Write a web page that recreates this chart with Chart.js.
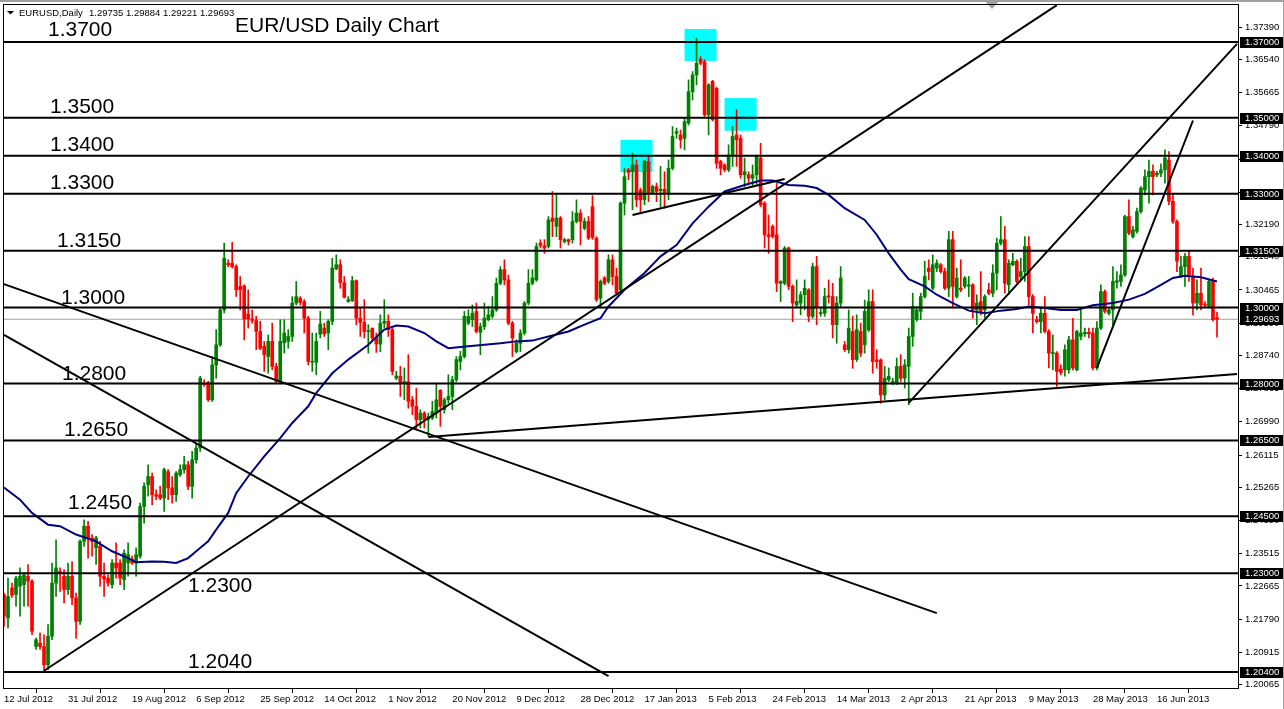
<!DOCTYPE html>
<html>
<head>
<meta charset="utf-8">
<title>EUR/USD Daily Chart</title>
<script src="https://cdn.jsdelivr.net/npm/chart.js@4.4.1/dist/chart.umd.min.js"></script>
<style>
  html, body { margin: 0; padding: 0; background: #fff; }
  canvas { display: block; }
</style>
</head>
<body>
<canvas id="chart" width="1284" height="709"></canvas>
<script>
// EURUSD daily candles, 12 Jul 2012 .. 21 Jun 2013 (bar 0 .. 303)
const opens = [
  1.2244,1.2182,1.2261,1.2244,1.2266,1.2270,1.2292,1.2279,1.2107,1.2116,
  1.2107,1.2059,1.2134,1.2274,1.2305,1.2292,1.2257,1.2292,1.2235,1.2173,
  1.2384,1.2424,1.2393,1.2367,1.2371,1.2292,1.2287,1.2270,1.2327,1.2327,
  1.2283,1.2327,1.2336,1.2327,1.2345,1.2476,1.2533,1.2555,1.2507,1.2507,
  1.2498,1.2568,1.2525,1.2507,1.2560,1.2573,1.2586,1.2529,1.2599,1.2630,
  1.2801,1.2801,1.2757,1.2849,1.2902,1.2994,1.3117,1.3117,1.3108,1.3056,
  1.3057,1.2983,1.2970,1.2966,1.2937,1.2898,1.2871,1.2911,1.2845,1.2805,
  1.2907,1.2911,1.2924,1.3012,1.3025,1.3016,1.2972,1.2856,1.2856,1.2930,
  1.2946,1.2933,1.2964,1.3102,1.3113,1.3066,1.3016,1.3018,1.3071,1.2972,
  1.2961,1.2937,1.2946,1.2920,1.2904,1.2959,1.2964,1.2942,1.2814,1.2819,
  1.2801,1.2805,1.2757,1.2740,1.2705,1.2722,1.2706,1.2709,1.2722,1.2782,
  1.2731,1.2757,1.2766,1.2810,1.2858,1.2871,1.2959,1.2968,1.2990,1.2935,
  1.2950,1.2968,1.2977,1.2994,1.3064,1.3100,1.3073,1.2959,1.2884,1.2906,
  1.2933,1.3012,1.3064,1.3073,1.3170,1.3163,1.3161,1.3236,1.3214,1.3236,
  1.3174,1.3179,1.3179,1.3227,1.3249,1.3209,1.3227,1.3266,1.3183,1.3025,
  1.3078,1.3069,1.3126,1.3082,1.3047,1.3275,1.3363,1.3358,1.3376,1.3310,
  1.3284,1.3385,1.3303,1.3319,1.3308,1.3312,1.3301,1.3367,1.3459,1.3455,
  1.3446,1.3486,1.3569,1.3613,1.3654,1.3648,1.3508,1.3596,1.3578,1.3385,
  1.3376,1.3363,1.3402,1.3455,1.3446,1.3350,1.3350,1.3341,1.3350,1.3394,
  1.3275,1.3192,1.3214,1.3192,1.3064,1.3064,1.3157,1.3056,1.3007,1.3012,
  1.3034,1.3047,1.2977,1.3108,1.2984,1.2985,1.3031,1.3029,1.2955,1.3012,
  1.2902,1.2889,1.2937,1.2863,1.2937,1.2902,1.2941,1.3016,1.2862,1.2862,
  1.2770,1.2810,1.2803,1.2801,1.2845,1.2814,1.2845,1.2924,1.2968,1.2990,
  1.3029,1.3104,1.3051,1.3104,1.3113,1.3095,1.3051,1.3179,1.3029,1.3051,
  1.3056,1.3057,1.3060,1.2994,1.3016,1.2994,1.3047,1.3038,1.3091,1.3170,
  1.3179,1.3060,1.3113,1.3122,1.3082,1.3095,1.3161,1.3029,1.2968,1.2963,
  1.2985,1.2937,1.2879,1.2880,1.2838,1.2836,1.2836,1.2915,1.2836,1.2924,
  1.2931,1.2935,1.2933,1.2841,1.2946,1.3042,1.2985,1.2994,1.3067,1.3069,
  1.3086,1.3240,1.3187,1.3201,1.3253,1.3310,1.3345,1.3359,1.3350,1.3354,
  1.3363,1.3389,1.3280,1.3227,1.3082,1.3108,1.3135,1.3082,1.3012,1.3038,
  1.3009,1.3003,1.3069,1.29735
];
const highs = [
  1.2248,1.2287,1.2274,1.2292,1.2314,1.2301,1.2323,1.2283,1.2129,1.2143,
  1.2138,1.2165,1.2327,1.2388,1.2314,1.2310,1.2327,1.2331,1.2248,1.2388,
  1.2441,1.2437,1.2402,1.2397,1.2384,1.2327,1.2296,1.2336,1.2380,1.2336,
  1.2362,1.2380,1.2345,1.2367,1.2485,1.2538,1.2586,1.2564,1.2520,1.2529,
  1.2577,1.2573,1.2555,1.2568,1.2586,1.2608,1.2595,1.2621,1.2643,1.2819,
  1.2810,1.2806,1.2871,1.2942,1.2999,1.3170,1.3126,1.3172,1.3113,1.3082,
  1.3060,1.3047,1.2994,1.2977,1.2964,1.2911,1.2928,1.2959,1.2854,1.2968,
  1.2968,1.2942,1.3029,1.3069,1.3029,1.3021,1.2977,1.2933,1.2933,1.2990,
  1.2959,1.2968,1.3130,1.3139,1.3126,1.3082,1.3029,1.3082,1.3073,1.2999,
  1.3021,1.2955,1.2946,1.2933,1.2981,1.3021,1.2981,1.2946,1.2832,1.2845,
  1.2841,1.2876,1.2766,1.2788,1.2731,1.2726,1.2722,1.2753,1.2801,1.2784,
  1.2762,1.2823,1.2819,1.2871,1.2885,1.2990,1.2994,1.3007,1.3012,1.2959,
  1.3012,1.3003,1.3029,1.3078,1.3108,1.3126,1.3086,1.2964,1.2915,1.2942,
  1.3016,1.3100,1.3100,1.3170,1.3179,1.3179,1.3240,1.3306,1.3297,1.3240,
  1.3183,1.3181,1.3253,1.3284,1.3258,1.3236,1.3240,1.3295,1.3187,1.3073,
  1.3082,1.3139,1.3139,1.3104,1.3279,1.3367,1.3367,1.3407,1.3389,1.3315,
  1.3388,1.3398,1.3323,1.3328,1.3372,1.3358,1.3389,1.3477,1.3473,1.3468,
  1.3499,1.3600,1.3622,1.3710,1.3661,1.3653,1.3590,1.3599,1.3581,1.3388,
  1.3379,1.3429,1.3477,1.3521,1.3455,1.3394,1.3358,1.3376,1.3402,1.3433,
  1.3279,1.3244,1.3218,1.3328,1.3071,1.3161,1.3160,1.3060,1.3073,1.3042,
  1.3073,1.3050,1.3117,1.3135,1.2999,1.3051,1.3073,1.3064,1.3029,1.3108,
  1.2911,1.2994,1.2977,1.2981,1.2959,1.3020,1.3047,1.3047,1.2889,1.2865,
  1.2845,1.2841,1.2814,1.2867,1.2876,1.2863,1.2946,1.3038,1.3003,1.3038,
  1.3122,1.3126,1.3139,1.3126,1.3116,1.3104,1.3201,1.3201,1.3104,1.3126,
  1.3082,1.3082,1.3063,1.3034,1.3095,1.3034,1.3064,1.3113,1.3183,1.3240,
  1.3214,1.3126,1.3143,1.3126,1.3130,1.3187,1.3187,1.3034,1.2977,1.2999,
  1.3029,1.2942,1.2928,1.2884,1.2849,1.2902,1.2924,1.2972,1.2940,1.2994,
  1.2946,1.2946,1.2946,1.2963,1.3060,1.3047,1.2999,1.3108,1.3095,1.3113,
  1.3244,1.3284,1.3214,1.3262,1.3319,1.3363,1.3389,1.3376,1.3359,1.3379,
  1.3416,1.3411,1.3302,1.3231,1.3135,1.3143,1.3148,1.3104,1.3073,1.3104,
  1.3016,1.3073,1.3078,1.29884
];
const lows = [
  1.2160,1.2156,1.2236,1.2213,1.2187,1.2213,1.2213,1.2138,1.2099,1.2099,
  1.2039,1.2046,1.2125,1.2239,1.2252,1.2222,1.2244,1.2217,1.2129,1.2165,
  1.2371,1.2340,1.2345,1.2323,1.2266,1.2239,1.2266,1.2261,1.2287,1.2270,
  1.2257,1.2292,1.2323,1.2292,1.2340,1.2432,1.2503,1.2481,1.2494,1.2494,
  1.2463,1.2494,1.2485,1.2489,1.2555,1.2564,1.2520,1.2498,1.2590,1.2621,
  1.2792,1.2753,1.2753,1.2814,1.2898,1.2986,1.3108,1.3104,1.3029,1.2994,
  1.2915,1.2946,1.2959,1.2889,1.2889,1.2832,1.2827,1.2836,1.2799,1.2799,
  1.2880,1.2893,1.2911,1.3007,1.3007,1.2933,1.2849,1.2832,1.2823,1.2920,
  1.2924,1.2889,1.2955,1.3100,1.3051,1.3025,1.3014,1.3016,1.2955,1.2924,
  1.2920,1.2880,1.2915,1.2882,1.2884,1.2946,1.2924,1.2823,1.2810,1.2766,
  1.2757,1.2735,1.2718,1.2678,1.2683,1.2683,1.2661,1.2705,1.2709,1.2687,
  1.2722,1.2748,1.2731,1.2805,1.2836,1.2867,1.2955,1.2950,1.2933,1.2876,
  1.2942,1.2965,1.2972,1.2990,1.3060,1.3060,1.2955,1.2871,1.2880,1.2884,
  1.2928,1.3007,1.3060,1.3069,1.3157,1.3143,1.3157,1.3187,1.3187,1.3157,
  1.3170,1.3165,1.3170,1.3223,1.3165,1.3205,1.3179,1.3180,1.3016,1.2999,
  1.3060,1.3064,1.3060,1.3034,1.3042,1.3244,1.3337,1.3258,1.3266,1.3249,
  1.3271,1.3279,1.3298,1.3279,1.3266,1.3262,1.3284,1.3363,1.3446,1.3420,
  1.3416,1.3481,1.3547,1.3587,1.3640,1.3499,1.3455,1.3492,1.3367,1.3350,
  1.3358,1.3358,1.3372,1.3372,1.3341,1.3319,1.3323,1.3319,1.3323,1.3266,
  1.3157,1.3143,1.3183,1.3042,1.3016,1.3060,1.3047,1.2963,1.2999,1.2981,
  1.2994,1.2963,1.2972,1.2955,1.2977,1.2977,1.3012,1.2920,1.2906,1.3003,
  1.2884,1.2880,1.2840,1.2858,1.2871,1.2880,1.2937,1.2827,1.2840,1.2748,
  1.2757,1.2805,1.2797,1.2797,1.2805,1.2788,1.2744,1.2898,1.2964,1.2968,
  1.3025,1.3073,1.3047,1.3095,1.3091,1.3047,1.3029,1.2999,1.3025,1.3042,
  1.3051,1.3029,1.2972,1.2955,1.2981,1.2972,1.3034,1.3029,1.3047,1.3165,
  1.3038,1.3034,1.3110,1.3064,1.3073,1.3069,1.3007,1.2933,1.2959,1.2933,
  1.2933,1.2841,1.2836,1.2792,1.2823,1.2819,1.2827,1.2836,1.2833,1.2915,
  1.2924,1.2920,1.2836,1.2836,1.2942,1.2985,1.2981,1.2955,1.3051,1.3056,
  1.3082,1.3192,1.3183,1.3196,1.3249,1.3297,1.3275,1.3297,1.3345,1.3345,
  1.3328,1.3271,1.3222,1.3095,1.3079,1.3056,1.3069,1.2981,1.2994,1.2994,
  1.3003,1.2999,1.2964,1.29221
];
const closes = [
  1.2187,1.2239,1.2242,1.2287,1.2292,1.2296,1.2279,1.2147,1.2125,1.2107,
  1.2059,1.2134,1.2274,1.2314,1.2301,1.2257,1.2292,1.2235,1.2173,1.2384,
  1.2424,1.2393,1.2384,1.2393,1.2292,1.2285,1.2274,1.2327,1.2314,1.2287,
  1.2353,1.2349,1.2327,1.2349,1.2476,1.2529,1.2555,1.2507,1.2503,1.2498,
  1.2573,1.2525,1.2507,1.2564,1.2573,1.2586,1.2529,1.2599,1.2630,1.2814,
  1.2797,1.2757,1.2849,1.2902,1.2994,1.3130,1.3113,1.3108,1.3047,1.3047,
  1.2970,1.2970,1.2966,1.2937,1.2893,1.2876,1.2911,1.2845,1.2805,1.2911,
  1.2933,1.2924,1.3012,1.3029,1.3014,1.2972,1.2858,1.2858,1.2911,1.2957,
  1.2931,1.2964,1.3104,1.3113,1.3066,1.3027,1.3021,1.3071,1.2972,1.2961,
  1.2937,1.2939,1.2920,1.2904,1.2959,1.2964,1.2942,1.2832,1.2820,1.2801,
  1.2805,1.2753,1.2740,1.2705,1.2722,1.2705,1.2713,1.2726,1.2757,1.2740,
  1.2757,1.2766,1.2810,1.2863,1.2871,1.2977,1.2977,1.2985,1.2937,1.2950,
  1.2972,1.2981,1.2994,1.3064,1.3100,1.3073,1.2959,1.2920,1.2906,1.2933,
  1.3012,1.3064,1.3078,1.3161,1.3163,1.3157,1.3231,1.3227,1.3236,1.3179,
  1.3179,1.3174,1.3227,1.3249,1.3227,1.3227,1.3183,1.3185,1.3021,1.3069,
  1.3064,1.3126,1.3082,1.3038,1.3275,1.3345,1.3356,1.3376,1.3284,1.3284,
  1.3385,1.3301,1.3319,1.3306,1.3312,1.3301,1.3367,1.3451,1.3464,1.3442,
  1.3490,1.3569,1.3613,1.3644,1.3644,1.3508,1.3587,1.3495,1.3380,1.3367,
  1.3363,1.3402,1.3451,1.3442,1.3350,1.3358,1.3341,1.3350,1.3398,1.3271,
  1.3192,1.3187,1.3187,1.3064,1.3069,1.3157,1.3056,1.3012,1.3016,1.3034,
  1.3051,1.2977,1.3108,1.2999,1.2987,1.3029,1.3028,1.2955,1.3012,1.3078,
  1.2889,1.2946,1.2863,1.2942,1.2880,1.2990,1.3016,1.2858,1.2858,1.2770,
  1.2814,1.2819,1.2805,1.2845,1.2814,1.2849,1.2924,1.3003,1.2994,1.3029,
  1.3082,1.3095,1.3113,1.3117,1.3095,1.3051,1.3179,1.3056,1.3078,1.3047,
  1.3078,1.3060,1.2994,1.3012,1.2990,1.3029,1.3038,1.3091,1.3170,1.3179,
  1.3064,1.3117,1.3122,1.3069,1.3095,1.3161,1.3029,1.2985,1.2963,1.2985,
  1.2937,1.2880,1.2882,1.2832,1.2829,1.2889,1.2915,1.2841,1.2937,1.2933,
  1.2935,1.2931,1.2841,1.2946,1.3042,1.2990,1.2994,1.3069,1.3071,1.3086,
  1.3240,1.3196,1.3205,1.3253,1.3315,1.3345,1.3359,1.3345,1.3354,1.3363,
  1.3394,1.3280,1.3227,1.3122,1.3108,1.3135,1.3082,1.3012,1.3038,1.3007,
  1.3006,1.3069,1.2968,1.29693
];

// moving average (navy line), read at these bars
const maIdx = [0,4,7,11,14,18,23,27,31,33,37,40,43,46,48,51,53,56,58,61,
  65,69,72,76,78,82,86,91,95,98,101,105,108,111,116,120,124,128,132,136,
  141,145,149,151,155,160,164,168,172,176,180,185,189,192,196,200,203,206,210,215,
  218,221,224,226,230,233,237,241,245,249,253,256,260,264,268,272,277,281,285,289,
  292,295,299,303];
const maVal = [1.2526,1.2494,1.2459,1.2428,1.2424,1.2402,1.2384,1.2358,1.2340,1.2329,
  1.2331,1.2330,1.2327,1.2340,1.2358,1.2384,1.2415,1.2459,1.2511,1.2555,
  1.2608,1.2656,1.2696,1.2740,1.2775,1.2827,1.2863,1.2902,1.2942,1.2953,
  1.2950,1.2933,1.2911,1.2893,1.2898,1.2902,1.2906,1.2911,1.2913,1.2924,
  1.2937,1.2955,1.2972,1.3003,1.3047,1.3091,1.3135,1.3165,1.3222,1.3266,
  1.3306,1.3323,1.3335,1.3335,1.3323,1.3321,1.3315,1.3297,1.3262,1.3231,
  1.3192,1.3143,1.3100,1.3075,1.3056,1.3034,1.3012,1.2992,1.2985,1.2992,
  1.2996,1.3003,1.2999,1.2994,1.2994,1.3006,1.3012,1.3021,1.3036,1.3060,
  1.3078,1.3084,1.3080,1.3069];

// horizontal levels and their captions
const levels = [1.37, 1.35, 1.34, 1.33, 1.315, 1.30, 1.28, 1.265, 1.245, 1.23, 1.204];
const levelText = ['1.3700','1.3500','1.3400','1.3300','1.3150','1.3000','1.2800','1.2650','1.2450','1.2300','1.2040'];
const lastPrice = 1.29693;

// trend lines: from (bar, price) to (bar, price)
const trendStartIdx = [10, 106, 0, 0, 157, 226, 273];
const trendStartVal = [1.2043, 1.2659, 1.3062, 1.2928, 1.3244, 1.2749, 1.2841];
const trendEndIdx = [263, 308, 233, 151, 195, 308, 297];
const trendEndVal = [1.3797, 1.2825, 1.2195, 1.2029, 1.3339, 1.3695, 1.3493];

// cyan highlight boxes
const boxStartIdx = [154, 170, 180];
const boxEndIdx = [162, 178, 188];
const boxTop = [1.3442, 1.3734, 1.3552];
const boxBottom = [1.3357, 1.3650, 1.3466];

// axes
const yTicks = [1.37390,1.36540,1.35665,1.34790,1.33915,1.33040,1.32190,1.31340,1.30465,1.29590,
  1.28740,1.27865,1.26990,1.26115,1.25265,1.24390,1.23515,1.22665,1.21790,1.20915,1.20065];
const dateTicks = ['12 Jul 2012','31 Jul 2012','19 Aug 2012','6 Sep 2012','25 Sep 2012','14 Oct 2012',
  '1 Nov 2012','20 Nov 2012','9 Dec 2012','28 Dec 2012','17 Jan 2013','5 Feb 2013','24 Feb 2013',
  '14 Mar 2013','2 Apr 2013','21 Apr 2013','9 May 2013','28 May 2013','16 Jun 2013'];
const barsPerTick = 16;

// ---- layout / style ----
const FONT = '"Liberation Sans", Arial, sans-serif';
const GREEN = '#008000', RED = '#ff0000', NAVY = '#000080';
const levelLabelX = [48, 50, 50, 50, 57, 61, 62, 64, 68, 188, 188];
const levelLabelDy = [-6, -5, -5, -5, -4, -4, -4, -4, -7, 19, -4];
const X_MIN = -0.25, X_MAX = 308.5;

Chart.defaults.font.family = FONT;

const candleColors = closes.map((c, i) => c >= opens[i] ? GREEN : RED);

const datasets = [];
levels.forEach(lv => datasets.push({
  type: 'line', data: [{x: X_MIN, y: lv}, {x: X_MAX, y: lv}],
  borderColor: '#000', borderWidth: 2, pointRadius: 0, order: 0
}));
trendStartIdx.forEach((s, k) => datasets.push({
  type: 'line', data: [{x: s, y: trendStartVal[k]}, {x: trendEndIdx[k], y: trendEndVal[k]}],
  borderColor: '#000', borderWidth: 2, pointRadius: 0, order: 0
}));
datasets.push({
  type: 'line', data: maIdx.map((x, k) => ({x, y: maVal[k]})),
  borderColor: NAVY, borderWidth: 2, pointRadius: 0, tension: 0, order: 1
});
datasets.push({
  type: 'bar', data: opens.map((o, i) => ({x: i, y: [Math.min(o, closes[i]), Math.max(o, closes[i])]})),
  backgroundColor: candleColors, borderWidth: 0, barThickness: 3, minBarLength: 1,
  grouped: false, order: 2
});
datasets.push({
  type: 'bar', data: highs.map((h, i) => ({x: i, y: [lows[i], h]})),
  backgroundColor: candleColors, borderWidth: 0, barThickness: 1, minBarLength: 1,
  grouped: false, order: 3
});
datasets.push({
  type: 'line', data: [{x: X_MIN, y: lastPrice}, {x: X_MAX, y: lastPrice}],
  borderColor: '#a0a0a0', borderWidth: 1, pointRadius: 0, order: 4
});

const boxesPlugin = {
  id: 'boxes',
  beforeDatasetsDraw(chart) {
    const {ctx, scales: {x, y}} = chart;
    ctx.save();
    ctx.fillStyle = '#00ffff';
    boxStartIdx.forEach((s, k) => {
      const x1 = x.getPixelForValue(s), x2 = x.getPixelForValue(boxEndIdx[k]);
      const y1 = y.getPixelForValue(boxTop[k]), y2 = y.getPixelForValue(boxBottom[k]);
      ctx.fillRect(x1, y1, x2 - x1, y2 - y1);
    });
    ctx.restore();
  }
};

const overlayPlugin = {
  id: 'overlay',
  afterDatasetsDraw(chart) {
    const {ctx, scales: {y}} = chart;
    ctx.save();
    ctx.fillStyle = '#000';
    ctx.textBaseline = 'alphabetic';
    ctx.textAlign = 'left';
    ctx.font = '21px ' + FONT;
    levels.forEach((lv, k) => {
      ctx.fillText(levelText[k], levelLabelX[k], y.getPixelForValue(lv) + levelLabelDy[k]);
    });
    ctx.fillText('EUR/USD Daily Chart', 235, 32);
    // header
    ctx.beginPath();
    ctx.moveTo(7, 11); ctx.lineTo(14, 11); ctx.lineTo(10.5, 14.5); ctx.closePath();
    ctx.fill();
    ctx.font = '9.5px ' + FONT;
    const n = closes.length - 1;
    ctx.fillText('EURUSD,Daily', 19, 16);
    ctx.fillText([opens[n], highs[n], lows[n], closes[n]].map(v => v.toFixed(5)).join(' '), 89, 16);
    ctx.restore();
  },
  afterDraw(chart) {
    const {ctx, chartArea: a, scales: {y}} = chart;
    ctx.save();
    // window edge and chart-shift marker
    ctx.fillStyle = '#a0a0a0';
    ctx.fillRect(0, 0, chart.width, 2);
    ctx.fillRect(chart.width - 1, 0, 1, chart.height);
    ctx.beginPath();
    ctx.moveTo(986, 2); ctx.lineTo(998, 2); ctx.lineTo(992, 9); ctx.closePath();
    ctx.fill();
    ctx.strokeStyle = '#000';
    ctx.lineWidth = 1;
    ctx.strokeRect(a.left + 0.5, a.top + 0.5, a.right - a.left - 1, a.bottom - a.top - 1);
    // price tags on the right axis
    ctx.font = '9.5px ' + FONT;
    ctx.textAlign = 'left';
    ctx.textBaseline = 'middle';
    levels.concat([lastPrice]).forEach(v => {
      const py = Math.round(y.getPixelForValue(v));
      ctx.fillStyle = '#000';
      ctx.fillRect(a.right + 1, py - 5, 43, 11);
      ctx.fillStyle = '#fff';
      ctx.fillText(v.toFixed(5), a.right + 6, py + 0.5);
    });
    ctx.restore();
  }
};

new Chart(document.getElementById('chart'), {
  type: 'bar',
  data: {datasets},
  plugins: [boxesPlugin, overlayPlugin],
  options: {
    responsive: false,
    animation: false,
    events: [],
    layout: {padding: {left: 3, top: 4, right: 0, bottom: 0}},
    plugins: {legend: {display: false}, tooltip: {enabled: false}},
    scales: {
      x: {
        type: 'linear', min: X_MIN, max: X_MAX, offset: false,
        afterBuildTicks: s => { s.ticks = dateTicks.map((_, k) => ({value: k * barsPerTick})); },
        afterFit: s => { s.height = 20; s.paddingLeft = 0; s.paddingRight = 0; },
        grid: {drawOnChartArea: false, drawTicks: true, tickLength: 4, color: '#000'},
        border: {display: false},
        ticks: {autoSkip: false, maxRotation: 0, align: 'start', padding: 1, color: '#000',
          font: {size: 9.5}, callback: (v, i) => dateTicks[i]}
      },
      y: {
        position: 'right', min: 1.1995, max: 1.3800,
        afterBuildTicks: s => { s.ticks = yTicks.map(v => ({value: v})); },
        afterFit: s => { s.width = 45; s.paddingTop = 0; s.paddingBottom = 0; },
        grid: {drawOnChartArea: false, drawTicks: true, tickLength: 3, color: '#000'},
        border: {display: false},
        ticks: {autoSkip: false, padding: 3, color: '#000', font: {size: 9.5},
          callback: v => v.toFixed(5)}
      }
    }
  }
});
</script>
</body>
</html>
